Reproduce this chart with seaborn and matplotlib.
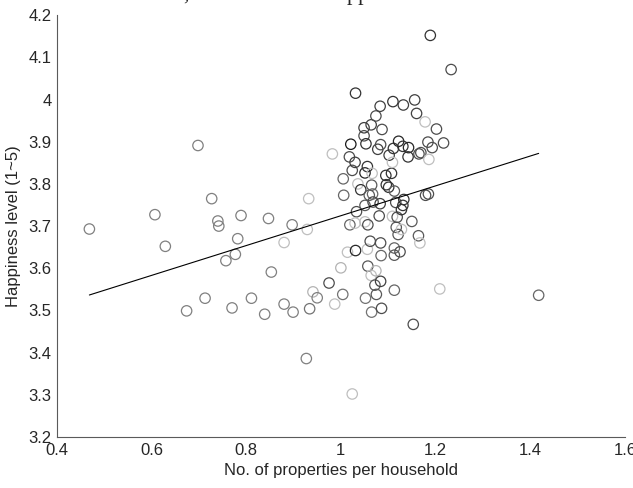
import numpy as np
import pandas as pd
import matplotlib
matplotlib.use("Agg")
import matplotlib.pyplot as plt
import seaborn as sns

# properties per household
props = [0.4685, 0.698, 0.607, 0.629, 0.727, 0.740, 0.742, 0.674, 0.713, 0.757,
         0.777, 0.782, 0.789, 0.770, 0.811, 0.839, 0.847, 0.853, 0.880, 0.880,
         0.897, 0.899, 0.929, 0.932, 0.934, 0.941, 0.950, 0.927, 0.975, 0.982,
         0.987, 1.000, 1.004, 1.006, 1.005, 1.014, 1.018, 1.021, 1.024, 1.019,
         1.024, 1.031, 1.030, 1.031, 1.033, 1.030, 1.036, 1.042, 1.049, 1.049,
         1.053, 1.051, 1.056, 1.051, 1.051, 1.057, 1.056, 1.057, 1.060, 1.052,
         1.062, 1.064, 1.065, 1.066, 1.067, 1.068, 1.064, 1.065, 1.074, 1.074,
         1.072, 1.075, 1.078, 1.083, 1.084, 1.087, 1.083, 1.081, 1.084, 1.085,
         1.084, 1.086, 1.095, 1.096, 1.101, 1.102, 1.110, 1.107, 1.109, 1.111,
         1.113, 1.116, 1.109, 1.117, 1.119, 1.121, 1.113, 1.113, 1.113, 1.122,
         1.125, 1.128, 1.128, 1.131, 1.133, 1.131, 1.132, 1.143, 1.142, 1.150,
         1.153, 1.156, 1.160, 1.164, 1.167, 1.165, 1.169, 1.178, 1.179, 1.185,
         1.184, 1.186, 1.189, 1.193, 1.202, 1.209, 1.217, 1.233, 1.418]

# happiness level
happy = [3.693, 3.891, 3.727, 3.652, 3.765, 3.712, 3.700, 3.499, 3.529, 3.618,
         3.633, 3.670, 3.725, 3.506, 3.529, 3.491, 3.718, 3.591, 3.661, 3.515,
         3.703, 3.496, 3.692, 3.765, 3.504, 3.544, 3.530, 3.386, 3.565, 3.871,
         3.515, 3.601, 3.538, 3.773, 3.812, 3.638, 3.864, 3.894, 3.832, 3.703,
         3.302, 4.015, 3.851, 3.642, 3.734, 3.707, 3.800, 3.786, 3.914, 3.933,
         3.895, 3.826, 3.841, 3.749, 3.710, 3.703, 3.645, 3.605, 3.773, 3.529,
         3.664, 3.940, 3.797, 3.825, 3.776, 3.757, 3.583, 3.496, 3.961, 3.594,
         3.560, 3.538, 3.882, 3.984, 3.893, 3.929, 3.753, 3.724, 3.660, 3.630,
         3.569, 3.505, 3.820, 3.798, 3.792, 3.868, 3.995, 3.825, 3.851, 3.884,
         3.783, 3.756, 3.723, 3.697, 3.721, 3.680, 3.648, 3.631, 3.548, 3.901,
         3.639, 3.692, 3.739, 3.749, 3.763, 3.889, 3.987, 3.886, 3.864, 3.711,
         3.467, 3.999, 3.967, 3.677, 3.660, 3.871, 3.874, 3.947, 3.773, 3.776,
         3.899, 3.858, 4.152, 3.886, 3.930, 3.551, 3.897, 4.071, 3.536]

# gray level of each marker (0 = black, 1 = white)
shade = [0.5, 0.5, 0.5, 0.5, 0.5, 0.5, 0.5, 0.5, 0.5, 0.5,
         0.5, 0.5, 0.5, 0.5, 0.5, 0.5, 0.5, 0.5, 0.75, 0.5,
         0.5, 0.5, 0.75, 0.75, 0.45, 0.7, 0.5, 0.5, 0.3, 0.75,
         0.75, 0.7, 0.45, 0.4, 0.4, 0.75, 0.3, 0.1, 0.3, 0.4,
         0.75, 0.2, 0.25, 0.15, 0.3, 0.75, 0.75, 0.2, 0.3, 0.25,
         0.2, 0.15, 0.2, 0.35, 0.75, 0.3, 0.75, 0.35, 0.35, 0.45,
         0.3, 0.25, 0.35, 0.75, 0.4, 0.3, 0.75, 0.45, 0.3, 0.7,
         0.35, 0.35, 0.25, 0.25, 0.3, 0.3, 0.25, 0.3, 0.3, 0.4,
         0.25, 0.3, 0.2, 0.2, 0.2, 0.25, 0.2, 0.2, 0.75, 0.2,
         0.35, 0.3, 0.75, 0.35, 0.3, 0.35, 0.4, 0.35, 0.4, 0.15,
         0.3, 0.75, 0.2, 0.2, 0.2, 0.2, 0.25, 0.15, 0.2, 0.35,
         0.3, 0.25, 0.25, 0.35, 0.75, 0.3, 0.3, 0.75, 0.3, 0.3,
         0.3, 0.75, 0.2, 0.3, 0.3, 0.75, 0.3, 0.3, 0.4]

# linear fit
fit_slope = 0.3535
fit_intercept = 3.371

xticks = [0.4, 0.6, 0.8, 1.0, 1.2, 1.4, 1.6]
xtick_labels = ['0.4', '0.6', '0.8', '1', '1.2', '1.4', '1.6']
yticks = [3.2, 3.3, 3.4, 3.5, 3.6, 3.7, 3.8, 3.9, 4.0, 4.1, 4.2]
ytick_labels = ['3.2', '3.3', '3.4', '3.5', '3.6', '3.7', '3.8', '3.9', '4', '4.1', '4.2']

df = pd.DataFrame({'props': props, 'happy': happy, 'shade': shade})

sns.set_style('white')
plt.rcParams['font.family'] = ['Liberation Sans', 'DejaVu Sans']
axcol = '#5a5a5a'

fig = plt.figure(figsize=(6.33, 4.88), dpi=100)
ax = fig.add_axes([0.090, 0.1045, 0.897, 0.8645])

sns.scatterplot(data=df, x='props', y='happy', s=56, color='k', ax=ax, legend=False)
coll = ax.collections[0]
coll.set_facecolor('none')
coll.set_edgecolor([(g, g, g) for g in df['shade']])
coll.set_linewidth(0.9)

line_x = np.array([df['props'].min(), df['props'].max()])
sns.lineplot(x=line_x, y=fit_intercept + fit_slope * line_x, color='k', lw=0.8, ax=ax)

ax.set_xlim(0.4, 1.6)
ax.set_ylim(3.2, 4.2)
ax.set_xticks(xticks)
ax.set_xticklabels(xtick_labels)
ax.set_yticks(yticks)
ax.set_yticklabels(ytick_labels)
ax.set_xlabel('No. of properties per household', fontsize=12, color='#262626', labelpad=4)
ax.set_ylabel('Happiness level (1~5)', fontsize=12, color='#262626', labelpad=5)
ax.tick_params(direction='in', length=4, width=0.8, colors=axcol, labelsize=12,
               labelcolor='#262626', pad=4)

sns.despine(ax=ax)
for side in ['left', 'bottom']:
    ax.spines[side].set_color(axcol)
    ax.spines[side].set_linewidth(0.8)

# caption above the chart, cut off by the page edge
fig.text(186 / 633, 1.0, ',', fontsize=16, family='Liberation Serif', va='baseline', ha='center')
fig.text(327 / 633, 1.0, 'happiness', fontsize=16, family='Liberation Serif', va='baseline', ha='left')

fig.savefig('out.png', dpi=100)
